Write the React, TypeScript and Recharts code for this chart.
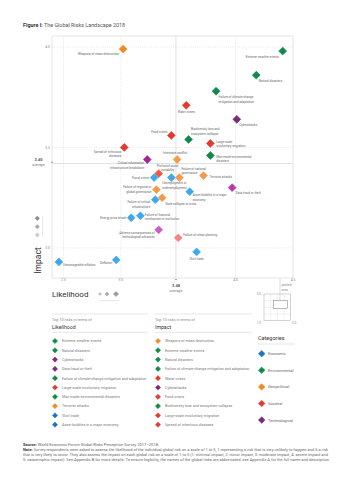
import React from "react";
import {
  ReferenceArea,
  ReferenceLine,
  Scatter,
  ScatterChart,
  XAxis,
  YAxis,
} from "recharts";

// ---- data ----
const risks = [
  "Weapons of mass destruction",
  "Extreme weather events",
  "Natural disasters",
  "Failure of climate-change mitigation and adaptation",
  "Water crises",
  "Cyberattacks",
  "Biodiversity loss and ecosystem collapse",
  "Large-scale involuntary migration",
  "Man-made environmental disasters",
  "Interstate conflict",
  "Food crises",
  "Spread of infectious diseases",
  "Critical information infrastructure breakdown",
  "Profound social instability",
  "Fiscal crises",
  "Unemployment or underemployment",
  "Failure of national governance",
  "Terrorist attacks",
  "Data fraud or theft",
  "Asset bubbles in a major economy",
  "Failure of regional or global governance",
  "Failure of critical infrastructure",
  "State collapse or crisis",
  "Energy price shock",
  "Failure of financial mechanism or institution",
  "Adverse consequences of technological advances",
  "Failure of urban planning",
  "Illicit trade",
  "Unmanageable inflation",
  "Deflation",
];

const riskCategory = [
  "Geopolitical", "Environmental", "Environmental", "Environmental", "Societal",
  "Technological", "Environmental", "Societal", "Environmental", "Geopolitical",
  "Societal", "Societal", "Technological", "Societal", "Economic",
  "Economic", "Geopolitical", "Geopolitical", "Technological", "Economic",
  "Geopolitical", "Economic", "Geopolitical", "Economic", "Economic",
  "Technological", "Societal", "Economic", "Economic", "Economic",
];

const likelihood = [
  3.02, 4.41, 4.18, 3.83, 3.57, 4.01, 3.59, 3.78, 3.78, 3.49,
  3.44, 3.03, 3.23, 3.33, 3.29, 3.44, 3.51, 3.72, 3.97, 3.6,
  3.31, 3.3, 3.36, 3.09, 3.17, 3.33, 3.5, 3.66, 2.46, 2.96,
];

const impact = [
  3.99, 3.98, 3.86, 3.78, 3.71, 3.64, 3.54, 3.52, 3.46, 3.44,
  3.56, 3.5, 3.44, 3.37, 3.35, 3.35, 3.35, 3.36, 3.3, 3.28,
  3.29, 3.24, 3.25, 3.15, 3.16, 3.09, 3.05, 2.98, 2.93, 2.94,
];

// abbreviated names as printed next to the points
const riskLabels = [
  ["Weapons of mass destruction"],
  ["Extreme weather events"],
  ["Natural disasters"],
  ["Failure of climate-change", "mitigation and adaptation"],
  ["Water crises"],
  ["Cyberattacks"],
  ["Biodiversity loss and", "ecosystem collapse"],
  ["Large-scale", "involuntary migration"],
  ["Man-made environmental", "disasters"],
  ["Interstate conflict"],
  ["Food crises"],
  ["Spread of infectious", "diseases"],
  ["Critical information", "infrastructure breakdown"],
  ["Profound social", "instability"],
  ["Fiscal crises"],
  ["Unemployment or", "underemployment"],
  ["Failure of national", "governance"],
  ["Terrorist attacks"],
  ["Data fraud or theft"],
  ["Asset bubbles in a major", "economy"],
  ["Failure of regional or", "global governance"],
  ["Failure of critical", "infrastructure"],
  ["State collapse or crisis"],
  ["Energy price shock"],
  ["Failure of financial", "mechanism or institution"],
  ["Adverse consequences of", "technological advances"],
  ["Failure of urban planning"],
  ["Illicit trade"],
  ["Unmanageable inflation"],
  ["Deflation"],
];

const likelihoodTop10 = [
  "Extreme weather events",
  "Natural disasters",
  "Cyberattacks",
  "Data fraud or theft",
  "Failure of climate-change mitigation and adaptation",
  "Large-scale involuntary migration",
  "Man-made environmental disasters",
  "Terrorist attacks",
  "Illicit trade",
  "Asset bubbles in a major economy",
];

const impactTop10 = [
  "Weapons of mass destruction",
  "Extreme weather events",
  "Natural disasters",
  "Failure of climate-change mitigation and adaptation",
  "Water crises",
  "Cyberattacks",
  "Food crises",
  "Biodiversity loss and ecosystem collapse",
  "Large-scale involuntary migration",
  "Spread of infectious diseases",
];

const categoryNames = ["Economic", "Environmental", "Geopolitical", "Societal", "Technological"];

const xTicks = [2.5, 3.0, 4.0, 4.5];
const yTicks = [3.0, 3.5, 4.0];
const avgLikelihood = 3.48;
const avgImpact = 3.42;

// ---- styling ----
const X_DOMAIN: [number, number] = [2.4, 4.5];
const Y_DOMAIN: [number, number] = [2.85, 4.055];
const FONT = "Roboto, 'Liberation Sans', Arial, sans-serif";

const CAT_COLOR: Record<string, string> = {
  Economic: "#1b75bc",
  Environmental: "#0f8a4c",
  Geopolitical: "#f08a22",
  Societal: "#e5392d",
  Technological: "#7b2a80",
};

// lighter shades used on the plot for some risks
const shade: Record<string, string> = {
  Economic: "#3ea8ec",
  "Interstate conflict": "#f29a48",
  "Failure of national governance": "#f29a48",
  "Terrorist attacks": "#f29a48",
  "Failure of regional or global governance": "#f29a48",
  "State collapse or crisis": "#f29a48",
  "Profound social instability": "#ef5646",
  "Failure of urban planning": "#f38585",
  "Critical information infrastructure breakdown": "#a1278f",
  "Data fraud or theft": "#b83aa8",
  "Adverse consequences of technological advances": "#c85cc5",
};

// label placement next to each point: [anchor, dx, dy]
const labelPos: [string, number, number][] = [
  ["end", -4, 4.6], ["end", -4, 6], ["start", 2.5, 5.7], ["start", 2.5, 5.7],
  ["middle", 0, 6.7], ["start", 2.5, 5.3], ["start", 2.5, -10.5], ["start", 6, -2],
  ["start", 6, 1.3], ["middle", -2, -6.7], ["end", -4, -3.7], ["end", -3, 4],
  ["end", -3, 3.7], ["middle", 9, -7.8], ["end", -5, 0], ["middle", 3, 5.6],
  ["start", 2, -9], ["start", 6, 1], ["start", 3.5, 5], ["start", 3, 3.4],
  ["end", -5, -2.5], ["end", -5, 2.7], ["start", 3, 6.3], ["end", -5, 0.3],
  ["start", 4.5, -1], ["end", -4, 3], ["start", 5, -3.3], ["middle", 0, 6.7],
  ["start", 4, 2.7], ["end", -4, 3.3],
];

const points = risks.map((name, i) => ({
  name,
  idx: i,
  likelihood: likelihood[i],
  impact: impact[i],
  category: riskCategory[i],
}));

const catOf = (name: string) => riskCategory[risks.indexOf(name)];

function diamondPath(cx: number, cy: number, r: number) {
  return `M${cx},${cy - r}L${cx + r},${cy}L${cx},${cy + r}L${cx - r},${cy}Z`;
}

function RiskShape(props: any) {
  const { cx, cy, payload } = props;
  if (cx == null || cy == null) return null;
  const color = shade[payload.name] || shade[payload.category] || CAT_COLOR[payload.category];
  const [anchor, dx, dy] = labelPos[payload.idx];
  const lines = riskLabels[payload.idx];
  return (
    <g>
      <path
        d={diamondPath(cx, cy, 3.9)}
        fill={color}
        stroke={color}
        strokeWidth={0.7}
        strokeLinejoin="round"
      />
      <text
        x={cx + dx}
        y={cy + dy + 1.1}
        textAnchor={anchor as any}
        fontSize={3.1}
        fill="#666"
        fontFamily={FONT}
      >
        {lines.map((l, k) => (
          <tspan key={k} x={cx + dx} dy={k === 0 ? 0 : 4.5}>
            {l}
          </tspan>
        ))}
      </text>
    </g>
  );
}

function XTick(props: any) {
  const { x, y, payload } = props;
  return (
    <text x={x} y={y + 2.5} textAnchor="middle" fontSize={3.4} fill="#888" fontFamily={FONT}>
      {payload.value.toFixed(1)}
    </text>
  );
}

function YTick(props: any) {
  const { x, y, payload } = props;
  return (
    <text x={x} y={y + 1.2} textAnchor="end" fontSize={3.4} fill="#888" fontFamily={FONT}>
      {payload.value.toFixed(1)}
    </text>
  );
}

function ListDiamond({ x, y, r, color }: { x: number; y: number; r: number; color: string }) {
  return (
    <path d={diamondPath(x, y, r)} fill={color} stroke={color} strokeWidth={0.5} strokeLinejoin="round" />
  );
}

function Overlay() {
  // inset showing the plotted area within the 1–5 scale
  const ix = 264, iy = 294, is = 26.7;
  const sx = (v: number) => ix + ((v - 1) / 4) * is;
  const sy = (v: number) => iy + is - ((v - 1) / 4) * is;
  const rowY = (k: number) => 341 + k * 9.3;

  return (
    <svg
      width={353}
      height={500}
      style={{ position: "absolute", left: 0, top: 0, pointerEvents: "none" }}
      fontFamily={FONT}
    >
      <text x={23} y={26.8} fontSize={5.4}>
        <tspan fontWeight="bold" fill="#333">Figure I:</tspan>
        <tspan fill="#555"> The Global Risks Landscape 2018</tspan>
      </text>

      {/* average labels */}
      <text x={38.5} y={160.5} fontSize={4} fontWeight="bold" fill="#555" textAnchor="middle">3.40</text>
      <text x={38.5} y={165.5} fontSize={3.6} fill="#777" textAnchor="middle">average</text>
      <circle cx={52} cy={162.3} r={0.8} fill="#888" />
      <text x={176} y={287} fontSize={4} fontWeight="bold" fill="#555" textAnchor="middle">3.48</text>
      <text x={176} y={292.3} fontSize={3.6} fill="#777" textAnchor="middle">average</text>
      <circle cx={176} cy={279.5} r={0.8} fill="#888" />

      {/* axis titles */}
      <text transform="translate(40.5,260.5) rotate(-90)" fontSize={8.5} fill="#333" textAnchor="middle">
        Impact
      </text>
      <text x={52} y={297} fontSize={8} fill="#333">Likelihood</text>

      {/* small gray markers */}
      <ListDiamond x={37.3} y={218.3} r={2.2} color="#8a8a8a" />
      <ListDiamond x={37.3} y={226.7} r={2.2} color="#a8a8a8" />
      <ListDiamond x={37.3} y={235} r={2.2} color="#cccccc" />
      <line x1={42.7} y1={215.5} x2={42.7} y2={236} stroke="#bbb" strokeWidth={0.4} />
      <ListDiamond x={100} y={294} r={1.6} color="#bbbbbb" />
      <ListDiamond x={107} y={294} r={2} color="#aaaaaa" />
      <ListDiamond x={116} y={294} r={2.6} color="#999999" />
      <line x1={99.3} y1={300.7} x2={119.3} y2={300.7} stroke="#bbb" strokeWidth={0.4} />

      {/* inset */}
      <line x1={280} y1={279} x2={280} y2={301} stroke="#aaa" strokeWidth={0.4} />
      <text x={281.5} y={286} fontSize={3.2} fill="#888">plotted</text>
      <text x={281.5} y={290.5} fontSize={3.2} fill="#888">area</text>
      {[2, 3, 4].map((v) => (
        <g key={v}>
          <line x1={sx(v)} y1={iy} x2={sx(v)} y2={iy + is} stroke="#ddd" strokeWidth={0.4} />
          <line x1={ix} y1={sy(v)} x2={ix + is} y2={sy(v)} stroke="#ddd" strokeWidth={0.4} />
        </g>
      ))}
      <rect x={ix} y={iy} width={is} height={is} fill="none" stroke="#aaa" strokeWidth={0.5} />
      <rect
        x={sx(X_DOMAIN[0])}
        y={sy(Y_DOMAIN[1])}
        width={sx(X_DOMAIN[1]) - sx(X_DOMAIN[0])}
        height={sy(Y_DOMAIN[0]) - sy(Y_DOMAIN[1])}
        fill="#fff"
        stroke="#777"
        strokeWidth={0.5}
      />
      <text x={261} y={294.5} fontSize={3} fill="#888" textAnchor="end">5.0</text>
      <text x={261} y={324} fontSize={3} fill="#888" textAnchor="end">1.0</text>
      <text x={292} y={324} fontSize={3} fill="#888">5.0</text>

      {/* top 10 lists */}
      {[
        { x: 52, w: 96, title: "Likelihood", items: likelihoodTop10 },
        { x: 155, w: 97, title: "Impact", items: impactTop10 },
      ].map((col) => (
        <g key={col.title}>
          <line x1={col.x} y1={314} x2={col.x + col.w} y2={314} stroke="#ccc" strokeWidth={0.5} />
          <text x={col.x} y={320.6} fontSize={3.8} fill="#888">Top 10 risks in terms of</text>
          <text x={col.x} y={328.5} fontSize={5.2} fill="#333">{col.title}</text>
          <line x1={col.x} y1={332.3} x2={col.x + col.w} y2={332.3} stroke="#ccc" strokeWidth={0.5} />
          {col.items.map((name, k) => (
            <g key={name}>
              <ListDiamond x={col.x + 3} y={rowY(k)} r={2.6} color={CAT_COLOR[catOf(name)]} />
              <text x={col.x + 10} y={rowY(k) + 1.3} fontSize={3.7} fill="#777">{name}</text>
            </g>
          ))}
        </g>
      ))}

      {/* categories */}
      <text x={258} y={340} fontSize={5.5} fill="#333">Categories</text>
      <line x1={258} y1={344} x2={295} y2={344} stroke="#ccc" strokeWidth={0.5} />
      {categoryNames.map((c, k) => (
        <g key={c}>
          <ListDiamond x={261.7} y={353.7 + k * 16.6} r={3.3} color={CAT_COLOR[c]} />
          <text x={268} y={353.7 + k * 16.6 + 1.4} fontSize={4} fill="#666">{c}</text>
        </g>
      ))}

      {/* footer */}
      <text x={23} y={445.6} fontSize={3.6} fill="#666" textLength={136} lengthAdjust="spacingAndGlyphs">
        <tspan fontWeight="bold" fill="#333">Source: </tspan>
        World Economic Forum Global Risks Perception Survey 2017–2018.
      </text>
      <text x={23} y={450.6} fontSize={3.6} fill="#666" textLength={305} lengthAdjust="spacingAndGlyphs">
        <tspan fontWeight="bold" fill="#333">Note: </tspan>
        Survey respondents were asked to assess the likelihood of the individual global risk on a scale of 1 to 5, 1
        representing a risk that is very unlikely to happen and 5 a risk
      </text>
      <text x={23} y={455.6} fontSize={3.6} fill="#666" textLength={305} lengthAdjust="spacingAndGlyphs">
        that is very likely to occur. They also assess the impact on each global risk on a scale of 1 to 5 (1: minimal
        impact, 2: minor impact, 3: moderate impact, 4: severe impact and
      </text>
      <text x={23} y={460.6} fontSize={3.6} fill="#666" textLength={307} lengthAdjust="spacingAndGlyphs">
        5: catastrophic impact). See Appendix B for more details. To ensure legibility, the names of the global risks
        are abbreviated; see Appendix A for the full name and description.
      </text>
    </svg>
  );
}

export default function App() {
  const grid = { stroke: "#cfcfcf", strokeWidth: 0.5, strokeDasharray: "1 1.2" };
  const avg = { stroke: "#d4d4d4", strokeWidth: 0.7 };

  return (
    <div
      style={{
        position: "absolute",
        left: 0,
        top: 0,
        width: 353,
        height: 500,
        background: "#fff",
      }}
    >
      <ScatterChart width={353} height={500} margin={{ top: 36, right: 60, bottom: 214, left: 42 }}>
        <XAxis
          type="number"
          dataKey="likelihood"
          domain={X_DOMAIN}
          ticks={xTicks}
          interval={0}
          allowDataOverflow
          height={8}
          tickSize={0}
          tickMargin={0}
          tickLine={false}
          axisLine={false}
          tick={XTick}
        />
        <YAxis
          type="number"
          dataKey="impact"
          domain={Y_DOMAIN}
          ticks={yTicks}
          interval={0}
          allowDataOverflow
          width={10}
          tickSize={0}
          tickMargin={2}
          tickLine={false}
          axisLine={false}
          tick={YTick}
        />
        <ReferenceArea
          x1={X_DOMAIN[0]}
          x2={X_DOMAIN[1]}
          y1={Y_DOMAIN[0]}
          y2={Y_DOMAIN[1]}
          fill="none"
          fillOpacity={0}
          stroke="#d9d9d9"
          strokeWidth={0.7}
        />
        {xTicks.slice(0, 3).map((v) => (
          <ReferenceLine key={"x" + v} x={v} {...grid} />
        ))}
        {yTicks.map((v) => (
          <ReferenceLine key={"y" + v} y={v} {...grid} />
        ))}
        <ReferenceLine x={avgLikelihood} {...avg} />
        <ReferenceLine y={avgImpact} {...avg} />
        <Scatter data={points} shape={RiskShape} isAnimationActive={false} />
      </ScatterChart>
      <Overlay />
    </div>
  );
}
